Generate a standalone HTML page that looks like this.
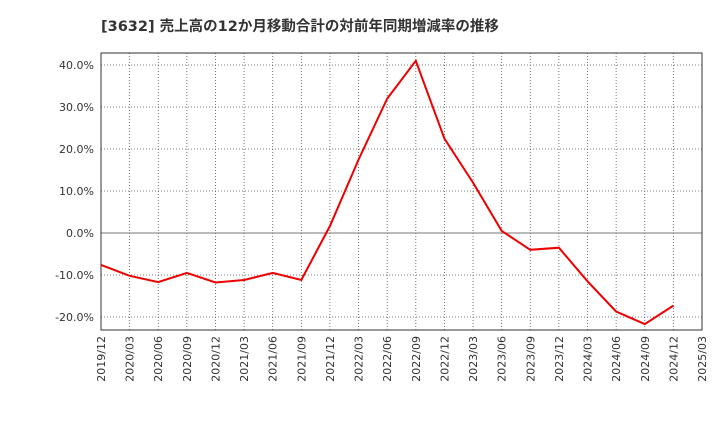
<!DOCTYPE html>
<html><head><meta charset="utf-8"><style>
body{margin:0;background:#fff;}
svg text{font-family:"DejaVu Sans","Noto Sans CJK JP",sans-serif;}
</style></head><body>
<svg width="720" height="440" xmlns="http://www.w3.org/2000/svg">
<text x="101" y="31" font-size="14.5" font-weight="bold" fill="#333">[3632]  売上高の12か月移動合計の対前年同期増減率の推移</text>
<g id="grid"></g>
<g id="yticks"></g>
<g id="xticks"></g>
<rect x="101" y="53" width="601" height="277" fill="none" stroke="#333" stroke-width="1"/>
<path id="line" fill="none" stroke="#e00" stroke-width="2"/>
</svg>
<script>
const categories=["2019/12","2020/03","2020/06","2020/09","2020/12","2021/03","2021/06","2021/09","2021/12","2022/03","2022/06","2022/09","2022/12","2023/03","2023/06","2023/09","2023/12","2024/03","2024/06","2024/09","2024/12","2025/03"];
const values=[-7.6,-10.2,-11.7,-9.5,-11.8,-11.2,-9.5,-11.2,1.7,17.5,32.0,41.0,22.5,12.0,0.5,-4.0,-3.5,-11.5,-18.7,-21.7,-17.3];
const yTicks=[-20,-10,0,10,20,30,40];
const NS="http://www.w3.org/2000/svg";
const x0=101,x1=702,yTop=53,yBot=330,vMax=42.86,vMin=-23.1;
const xs=i=>x0+(x1-x0)*i/(categories.length-1);
const ys=v=>yTop+(vMax-v)/(vMax-vMin)*(yBot-yTop);
const grid=document.getElementById('grid'),yt=document.getElementById('yticks'),xt=document.getElementById('xticks');
function mk(t,a,p){const e=document.createElementNS(NS,t);for(const k in a)e.setAttribute(k,a[k]);p.appendChild(e);return e;}
categories.forEach((c,i)=>{
  const x=xs(i);
  const l=mk('line',{x1:x,x2:x,y1:yTop,y2:yBot,stroke:'#555','stroke-width':0.8,'stroke-dasharray':'1,2'},grid);
  
  
  const t=mk('text',{x:0,y:0,'font-size':11,fill:'#333','text-anchor':'end',transform:`translate(${x+4},${yBot+6}) rotate(-90)`},xt);
  t.textContent=c;
  
  
});
yTicks.forEach(v=>{
  const y=ys(v);
  const l=mk('line',v===0?{x1:x0,x2:x1,y1:y,y2:y,stroke:'#777','stroke-width':1}:{x1:x0,x2:x1,y1:y,y2:y,stroke:'#555','stroke-width':0.8,'stroke-dasharray':'1,2'},grid);
  
  
  const t=mk('text',{x:x0-7,y:y+4,'font-size':11,fill:'#333','text-anchor':'end'},yt);
  t.textContent=v.toFixed(1)+'%';
  
  
});
document.getElementById('line').setAttribute('d',values.map((v,i)=>(i?'L':'M')+xs(i).toFixed(1)+','+ys(v).toFixed(1)).join(' '));
</script>
</body></html>
